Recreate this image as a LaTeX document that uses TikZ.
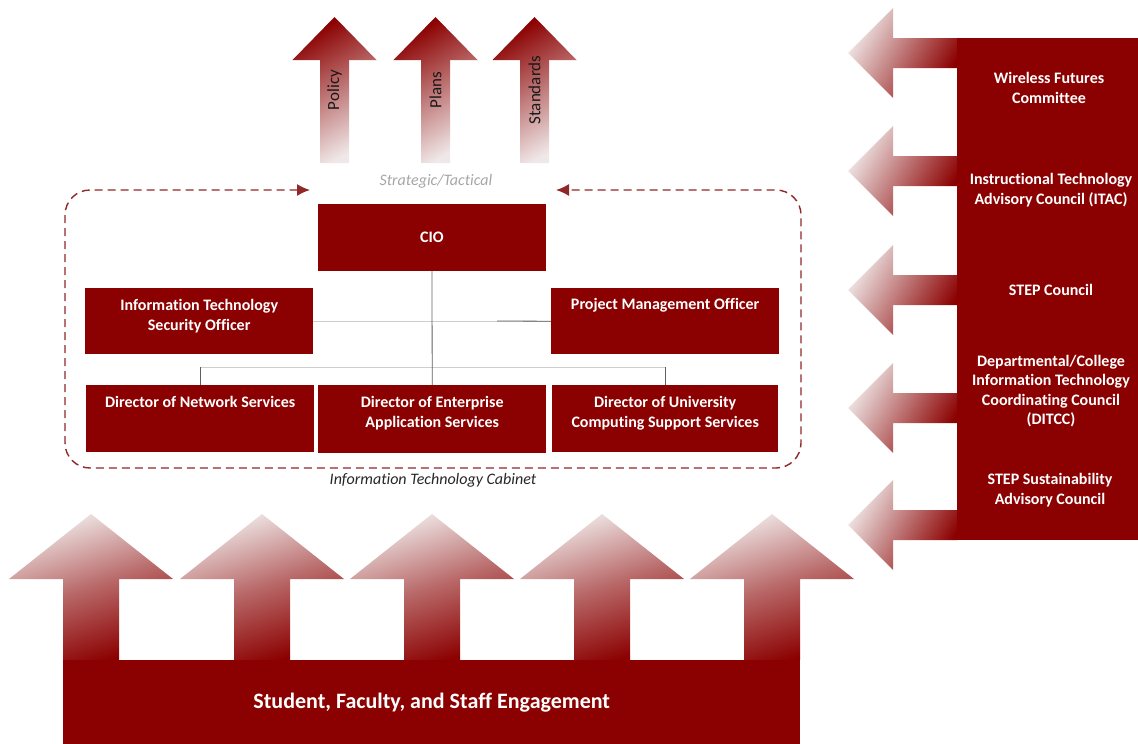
\documentclass[tikz,border=0pt]{standalone}
\usepackage{fontspec}
\setmainfont[Ligatures=NoCommon]{Carlito}
\usetikzlibrary{arrows.meta}
\definecolor{dred}{RGB}{139,0,0}
\definecolor{pale}{RGB}{240,232,232}
\definecolor{framered}{RGB}{145,40,40}
\definecolor{lnlight}{RGB}{205,205,205}
\definecolor{lndark}{RGB}{95,95,95}
\definecolor{stratgray}{RGB}{166,166,166}
\newcommand\bxfont{\fontsize{16}{19.5}\selectfont\bfseries}
\newcommand\engfont{\fontsize{22}{26}\selectfont\bfseries}
\newcommand\tbox[4]{\parbox[c][#2][t]{#1}{\centering\vspace*{#3}\strut #4\par}}
\begin{document}
\begin{tikzpicture}[x=1pt,y=-1pt,
  box/.style={fill=dred,text=white,font=\bxfont,inner sep=0pt,anchor=north west},
  ptext/.style={text=white,font=\bxfont,align=center,inner sep=0pt},
  upfade/.style={top color=pale,bottom color=dred,middle color=dred!55!pale,shading angle=18},
  topfade/.style={top color=dred,bottom color=pale,shading angle=30},
  leftfade/.style={top color=pale,bottom color=dred,shading angle=60},
  frame/.style={draw=framered,line width=1.4pt,dash pattern=on 8pt off 5pt,rounded corners=25pt},
  lnlt/.style={draw=lnlight,line width=0.8pt},
  lndk/.style={draw=lndark,line width=0.8pt},
  alabel/.style={font=\fontsize{17}{20}\selectfont,text=black!90,rotate=90,inner sep=0pt}]
\useasboundingbox (0,0) rectangle (1138,744);
% top arrows
\foreach \c in {334.5,435.5,534.5}
  \shade[topfade] (\c-14.5,163) -- (\c-14.5,60) -- (\c-42,60) -- (\c,17) -- (\c+42,60) -- (\c+14.5,60) -- (\c+14.5,163) -- cycle;
\node[alabel] (policy) at (334.5,90) {Policy};
\node[alabel] (plans) at (435.5,90) {Plans};
\node[alabel] (standards) at (534.5,90) {Standards};
% left arrows
\foreach \m in {53,171,290,408,525}
  \shade[leftfade] (957,\m-15) -- (893,\m-15) -- (893,\m-45) -- (848,\m) -- (893,\m+45) -- (893,\m+15) -- (957,\m+15) -- cycle;
% bottom arrows
\foreach \c in {91,262,432,602,772}
  \shade[upfade] (\c-28,660) -- (\c-28,579) -- (\c-82,579) -- (\c,514) -- (\c+82,579) -- (\c+28,579) -- (\c+28,660) -- cycle;
% right panel
\node[fill=dred,minimum width=181pt,minimum height=502pt,anchor=north west,inner sep=0pt] (panel) at (957,38) {};
\node[ptext] (wfc) at (1049,88) {Wireless Futures\\Committee};
\node[ptext] (itac) at (1051,190) {Instructional Technology\\Advisory Council (ITAC)};
\node[ptext] (stepc) at (1051,290) {STEP Council};
\node[ptext] (ditcc) at (1051,391) {Departmental/College\\Information Technology\\Coordinating Council\\(DITCC)};
\node[ptext] (stepsac) at (1050,490) {STEP Sustainability\\Advisory Council};
% bottom bar
\node[fill=dred,text=white,font=\engfont,minimum width=737pt,minimum height=84pt,anchor=north west,inner sep=0pt] (engage) at (63,660) {Student, Faculty, and Staff Engagement};
% frame
\coordinate (fl) at (310,190);
\coordinate (fr) at (556,190);
\draw[frame,{Latex[length=13pt,width=12pt]}-{Latex[length=13pt,width=12pt]}] (fl) -- (65,190) -- (65,468) -- (801,468) -- (801,190) -- (fr);
\node[font=\fontsize{16}{19}\selectfont\itshape,text=stratgray] (strat) at (436,181) {Strategic/Tactical};
\node[font=\fontsize{16}{19}\selectfont\itshape,text=black!85] (cab) at (433,480) {Information Technology Cabinet};
% boxes
\node[box,minimum width=228pt,minimum height=67pt,anchor=center] (cio) at (432,237.5) {CIO};
\node[box] (itso) at (85,288) {\tbox{228pt}{66pt}{9pt}{Information Technology\\Security Officer}};
\node[box] (pmo) at (551,288) {\tbox{228pt}{66pt}{8pt}{Project Management Officer}};
\node[box] (dns) at (86,385) {\tbox{228pt}{67pt}{9pt}{Director of Network Services}};
\node[box] (deas) at (318,385) {\tbox{228pt}{68pt}{9pt}{Director of Enterprise\\Application Services}};
\node[box] (ducss) at (552,385) {\tbox{226pt}{67pt}{9pt}{Director of University\\Computing Support Services}};
% connectors
\coordinate (bus) at (432,367);
\coordinate (pmdk) at (497,321);
\draw[lnlt] (itso.east) -- (pmo.west);
\draw[lndk] (pmdk) -- (pmo.west);
\draw[lnlt] (dns.north |- bus) -- (ducss.north |- bus);
\draw[lndk] (dns.north) -- (dns.north |- bus);
\draw[lndk] (ducss.north) -- (ducss.north |- bus);
\draw[lndk] (cio.south) -- (deas.north);
\end{tikzpicture}
\end{document}
